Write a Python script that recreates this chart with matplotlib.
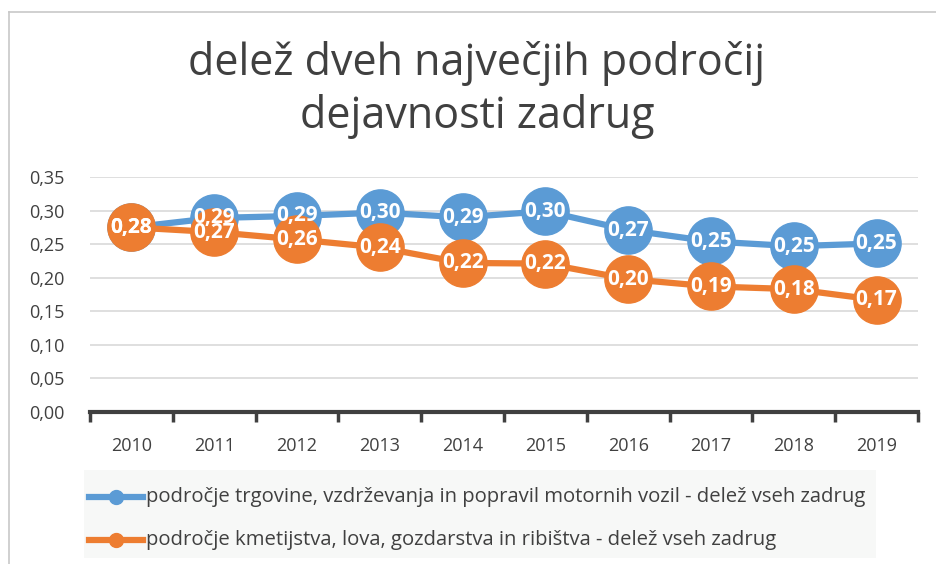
import matplotlib
matplotlib.use("Agg")
import matplotlib.pyplot as plt
from matplotlib.patches import Rectangle
from matplotlib.lines import Line2D

years = ["2010", "2011", "2012", "2013", "2014", "2015", "2016", "2017", "2018", "2019"]
trgovina = [0.275, 0.289, 0.292, 0.297, 0.290, 0.299, 0.271, 0.254, 0.247, 0.251]
kmetijstvo = [0.275, 0.268, 0.257, 0.245, 0.222, 0.221, 0.198, 0.187, 0.183, 0.167]
yticks = [0.0, 0.05, 0.10, 0.15, 0.20, 0.25, 0.30, 0.35]

name_t = "področje trgovine, vzdrževanja in popravil motornih vozil - delež vseh zadrug"
name_k = "področje kmetijstva, lova, gozdarstva in ribištva - delež vseh zadrug"

blue = "#5b9bd5"
orange = "#ed7d31"
txt = "#404040"

fig = plt.figure(figsize=(9.36, 5.64), dpi=100)

# chart frame (only left and top visible)
fig.add_artist(Line2D([9/936, 9/936], [0, 1 - 12/564], color="#c8c8c8", lw=1.2))
fig.add_artist(Line2D([9/936, 1], [1 - 12/564, 1 - 12/564], color="#c8c8c8", lw=1.2))

fig.text(477/936, 1 - 64/564, "delež dveh največjih področij", ha="center", va="center",
         fontsize=31, color=txt, family="Open Sans")
fig.text(477/936, 1 - 117/564, "dejavnosti zadrug", ha="center", va="center",
         fontsize=31, color=txt, family="Open Sans")

ax = fig.add_axes([90/936, 1 - 412/564, 828/936, 235/564])
x = list(range(len(years)))
ax.plot(x, trgovina, color=blue, lw=4.5, marker="o", ms=34, zorder=3)
ax.plot(x, kmetijstvo, color=orange, lw=4.5, marker="o", ms=34, zorder=4)
for xi, v in zip(x, trgovina):
    ax.text(xi, v, f"{v:.2f}".replace(".", ","), ha="center", va="center", color="white",
            fontsize=15, fontweight="bold", family="Open Sans", zorder=5)
for xi, v in zip(x, kmetijstvo):
    ax.text(xi, v, f"{v:.2f}".replace(".", ","), ha="center", va="center", color="white",
            fontsize=15, fontweight="bold", family="Open Sans", zorder=5)

ax.set_xlim(-0.5, len(years) - 0.5)
ax.set_ylim(0, 0.35)
ax.set_yticks(yticks)
ax.set_yticklabels([f"{t:.2f}".replace(".", ",") for t in yticks], color=txt, fontsize=13,
                   family="Open Sans")
ax.set_xticks(x)
ax.set_xticklabels(years, color=txt, fontsize=13, family="Open Sans")
ax.set_xticks([i - 0.5 for i in range(len(years) + 1)], minor=True)
ax.tick_params(axis="x", which="major", length=0, pad=18)
ax.tick_params(axis="x", which="minor", length=7, width=2.5, color="#404040")
ax.tick_params(axis="y", length=0, pad=18)
ax.grid(axis="y", color="#d9d9d9", lw=1.2, zorder=0)
ax.set_axisbelow(True)
for s in ["top", "right", "left"]:
    ax.spines[s].set_visible(False)
ax.spines["bottom"].set_color("#404040")
ax.spines["bottom"].set_linewidth(3)
ax.spines["bottom"].set_zorder(2)

# legend box
fig.add_artist(Rectangle((84/936, 1 - 558/564), 792/936, 88/564, transform=fig.transFigure,
                         facecolor="#f7f8f7", edgecolor="none"))
for row, (col, name) in enumerate([(blue, name_t), (orange, name_k)]):
    yy = 1 - (497 + row * 43) / 564
    fig.add_artist(Line2D([89/936, 143/936], [yy, yy], color=col, lw=4.5))
    fig.add_artist(Line2D([116/936], [yy], color=col, marker="o", ms=10, lw=0))
    fig.text(146/936, yy, name, ha="left", va="center", fontsize=14.6, color=txt,
             family="Open Sans")

fig.savefig("out.png", dpi=100)
